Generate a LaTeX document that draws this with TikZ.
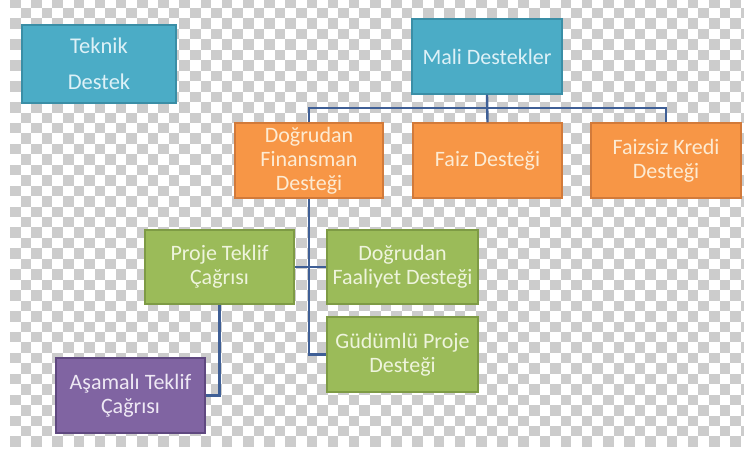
\documentclass[tikz,border=0pt]{standalone}
\usepackage{fontspec}
\setmainfont{Carlito}
\definecolor{chkgrey}{RGB}{204,204,204}
\definecolor{tealfill}{HTML}{4BACC6}
\definecolor{tealedge}{HTML}{3A8EA6}
\definecolor{tealtext}{HTML}{DDF1F7}
\definecolor{orfill}{HTML}{F79646}
\definecolor{oredge}{HTML}{D27A3A}
\definecolor{ortext}{HTML}{FDEBD3}
\definecolor{grfill}{HTML}{9BBB59}
\definecolor{gredge}{HTML}{7E9B45}
\definecolor{grtext}{HTML}{EEF4DC}
\definecolor{pufill}{HTML}{8064A2}
\definecolor{puedge}{HTML}{5F4880}
\definecolor{putext}{HTML}{EEE8F4}
\definecolor{linkblue}{HTML}{3F5F96}
\tikzset{
  box/.style={rectangle, inner sep=0pt, line width=1.3pt, align=center,
    font=\fontsize{22}{24}\selectfont},
  tealbox/.style={box, fill=tealfill, draw=tealedge, text=tealtext},
  orbox/.style={box, fill=orfill, draw=oredge, text=ortext},
  grbox/.style={box, fill=grfill, draw=gredge, text=grtext},
  pubox/.style={box, fill=pufill, draw=puedge, text=putext},
  link/.style={draw=linkblue, line width=2.4pt},
}
\begin{document}
\begin{tikzpicture}[x=1pt, y=-1pt]
  \useasboundingbox (0,0) rectangle (744,450);
  % transparency checkerboard behind the chart
  \fill[white] (0,0) rectangle (744,450);
  \begin{scope}
    \clip (10,0) rectangle (744,446);
    \foreach \i in {0,...,69}{
      \pgfmathtruncatemacro{\off}{mod(\i,2)}
      \foreach \j in {0,...,21}{
        \fill[chkgrey] ({10+\i*10.59}, {-2.45+(2*\j+\off)*10.45}) rectangle ++(10.59,10.45);
      }
    }
  \end{scope}

  % boxes
  \node[tealbox, minimum width=154pt, minimum height=78pt,
        font=\fontsize{22.5}{36}\selectfont] (tek) at (99,64) {Teknik\\Destek};
  \node[tealbox, minimum width=150pt, minimum height=75pt] (mali) at (487,56.5) {Mali Destekler};
  \node[orbox, minimum width=148pt, minimum height=75pt] (dfd) at (309,160.5) {Doğrudan\\Finansman\\Desteği};
  \node[orbox, minimum width=149pt, minimum height=75pt] (faiz) at (487.5,160.5) {Faiz Desteği};
  \node[orbox, minimum width=150pt, minimum height=75pt] (faizsiz) at (666,160.5) {Faizsiz Kredi\\Desteği};
  \node[grbox, minimum width=149pt, minimum height=74pt] (proje) at (219.5,267) {Proje Teklif\\Çağrısı};
  \node[grbox, minimum width=151pt, minimum height=74pt] (dfaal) at (402.5,267) {Doğrudan\\Faaliyet Desteği};
  \node[grbox, minimum width=151pt, minimum height=75pt] (gud) at (402.5,354.5) {Güdümlü Proje\\Desteği};
  \node[pubox, minimum width=149pt, minimum height=75pt] (asam) at (130.5,395.5) {Aşamalı Teklif\\Çağrısı};

  % connectors: a shared bus under Mali Destekler, then the lower branches
  \coordinate (bus) at (487,108);
  \draw[link] (mali.south) -- (faiz.north);
  \draw[link] (dfd.north) |- (bus) -| (faizsiz.north);
  \draw[link] (dfd.south) |- (gud.west);
  \draw[link] (proje.east) -- (dfaal.west);
  \draw[link] (proje.south) |- (asam.east);
\end{tikzpicture}
\end{document}
